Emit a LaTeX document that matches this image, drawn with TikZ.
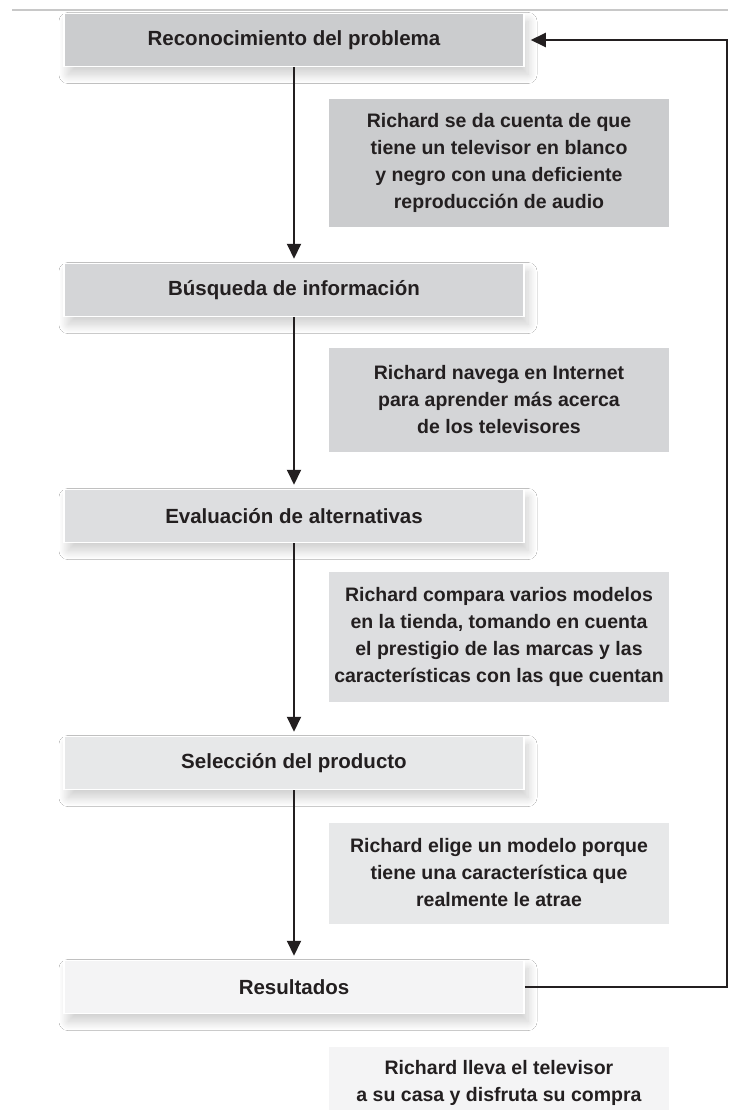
\documentclass[tikz,border=0pt]{standalone}
\usepackage{fontspec}
\setmainfont{Liberation Sans}
\usetikzlibrary{arrows.meta,shadows.blur}
\definecolor{ink}{HTML}{231F20}
\definecolor{sA}{HTML}{CBCCCE}
\definecolor{sB}{HTML}{D4D5D7}
\definecolor{sC}{HTML}{DDDEE0}
\definecolor{sD}{HTML}{E7E8E9}
\definecolor{sE}{HTML}{F4F4F5}
\definecolor{rule}{HTML}{C8C8C8}
\tikzset{
  stepbox/.style={draw=white, line width=1.5pt, minimum width=460pt, minimum height=53pt,
    inner sep=0pt, text=ink, font=\bfseries\fontsize{20.5}{27}\selectfont,
    blur shadow={shadow xshift=4pt, shadow yshift=-8pt, shadow blur radius=9pt,
      shadow opacity=20, shadow blur steps=30, shadow blur extra rounding=0pt}},
  descbox/.style={minimum width=340pt, inner sep=0pt, text=ink, align=center,
    font=\bfseries\fontsize{19.5}{27}\selectfont},
  flow/.style={line width=2pt, draw=ink, -{Triangle[width=14pt,length=15pt]}, shorten >=4pt},
}
\begin{document}
\begin{tikzpicture}[x=1pt,y=-1pt]
\useasboundingbox (0,0) rectangle (728,1110);
\clip (0,0) rectangle (728,1110);
\fill[white] (0,0) rectangle (728,1110);
\draw[rule, line width=1.5pt] (12,10) -- (728,10);

\node[stepbox, fill=sA] (s1) at (294,40) {Reconocimiento del problema};
\node[stepbox, fill=sB] (s2) at (294,290) {Búsqueda de información};
\node[stepbox, fill=sC] (s3) at (294,516) {Evaluación de alternativas};
\node[stepbox, fill=sD] (s4) at (294,763) {Selección del producto};
\node[stepbox, fill=sE] (s5) at (294,987) {Resultados};

\node[descbox, fill=sA, minimum height=128pt] (d1) at (499,163)
  {Richard se da cuenta de que\\tiene un televisor en blanco\\y negro con una deficiente\\reproducción de audio};
\node[descbox, fill=sB, minimum height=104pt] (d2) at (499,400)
  {Richard navega en Internet\\para aprender más acerca\\de los televisores};
\node[descbox, fill=sC, minimum height=130pt] (d3) at (499,637)
  {Richard compara varios modelos\\en la tienda, tomando en cuenta\\el prestigio de las marcas y las\\características con las que cuentan};
\node[descbox, fill=sD, minimum height=101pt] (d4) at (499,873)
  {Richard elige un modelo porque\\tiene una característica que\\realmente le atrae};
\fill[sE] (329,1047) rectangle (669,1120);
\node[descbox] (d5) at (499,1083)
  {Richard lleva el televisor\\a su casa y disfruta su compra};

\draw[flow] (s1.south) -- (s2.north);
\draw[flow] (s2.south) -- (s3.north);
\draw[flow] (s3.south) -- (s4.north);
\draw[flow] (s4.south) -- (s5.north);
\coordinate (rb) at (727,987);
\coordinate (rt) at (727,40);
\draw[flow, shorten >=6pt] (s5.east) -- (rb) -- (rt) -- (s1.east);
\end{tikzpicture}
\end{document}
